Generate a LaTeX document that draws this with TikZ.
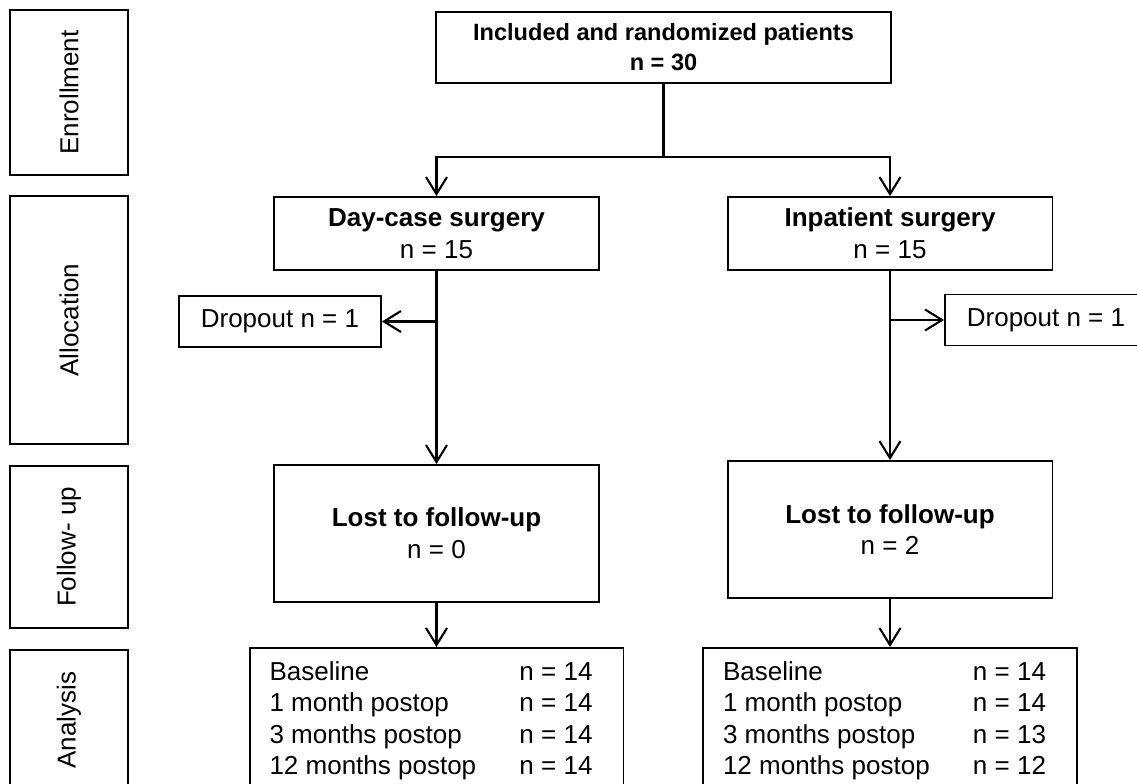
\documentclass[tikz,border=0pt]{standalone}
\usepackage{fontspec}
\setmainfont{Liberation Sans}
\usetikzlibrary{arrows.meta}

\begin{document}
\begin{tikzpicture}[x=0.02cm, y=-0.02cm,
	box/.style={draw, line width=1.1pt, align=center, inner sep=0pt, font=\fontsize{14.8}{18}\selectfont},
	phase/.style={box, rotate=90, minimum height=2.36cm},
	wide/.style={box, minimum width=6.5cm},
	drop/.style={box, minimum width=4.04cm, minimum height=1.02cm},
	count/.style={box, anchor=north, inner xsep=0.4cm, inner ysep=0.2cm},
	flow/.style={line width=1.2pt, -{Straight Barb[length=0.34cm, width=0.42cm]}}]
	\useasboundingbox (0,0) rectangle (1137,784);
	\clip (0,0) rectangle (1137,784);

	% phases
	\node[phase, minimum width=3.3cm] (enr) at (69,92.5) {Enrollment};
	\node[phase, minimum width=4.96cm] (alo) at (69,320) {Allocation};
	\node[phase, minimum width=3.24cm] (fol) at (69,547) {Follow- up};
	\node[phase, minimum width=2.8cm] (ana) at (69,720) {Analysis};

	% flow boxes
	\node[box, font=\fontsize{13.4}{17}\selectfont\bfseries, minimum width=9.1cm, minimum height=1.42cm] (inc) at (663.5,47.5) {Included and randomized patients\\n = 30};
	\node[wide, minimum height=1.46cm] (day) at (436.5,233.5) {\textbf{Day-case surgery}\\n = 15};
	\node[wide, minimum height=1.46cm] (inp) at (890,233.5) {\textbf{Inpatient surgery}\\n = 15};
	\node[drop] (dl) at (280,321.5) {Dropout n = 1};
	\node[drop] (dr) at (1046,320) {Dropout n = 1};
	\node[wide, minimum height=2.74cm] (ll) at (436.5,533.5) {\textbf{Lost to follow-up}\\n = 0};
	\node[wide, minimum height=2.74cm] (lr) at (890,529.5) {\textbf{Lost to follow-up}\\n = 2};
	\node[count] (al) at (436.5,647) {\begin{tabular}{@{}p{5cm}@{}p{1.68cm}@{}}
		Baseline & n = 14\\
		1 month postop & n = 14\\
		3 months postop & n = 14\\
		12 months postop & n = 14
	\end{tabular}};
	\node[count] (ar) at (890,647) {\begin{tabular}{@{}p{5cm}@{}p{1.68cm}@{}}
		Baseline & n = 14\\
		1 month postop & n = 14\\
		3 months postop & n = 13\\
		12 months postop & n = 12
	\end{tabular}};

	% connectors
	\coordinate (split) at (663.5,157);
	\draw[line width=1.2pt] (inc.south) -- (split);
	\draw[flow] (split) -| (day.north);
	\draw[flow] (split) -| (inp.north);
	\draw[flow] (day.south |- dl.east) -- (dl.east);
	\draw[flow] (inp.south |- dr.west) -- (dr.west);
	\foreach \a/\b in {day/ll, inp/lr, ll/al, lr/ar}{
	\draw[flow] (\a.south) -- (\b.north);
	}
\end{tikzpicture}
\end{document}
